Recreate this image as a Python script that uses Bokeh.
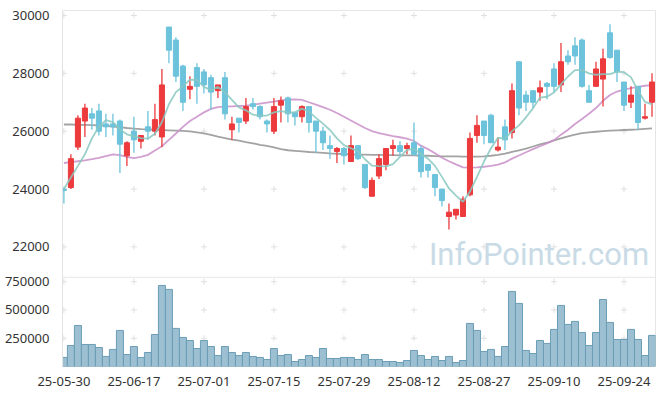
from bokeh.plotting import figure
from bokeh.models import Range1d, FixedTicker, Label, NumeralTickFormatter, Span
from bokeh.embed import file_html
from bokeh.resources import INLINE

# ---- data ----
opens = [24000, 24050, 25450, 26350, 26600, 26700, 26250, 26250, 26350, 25150,
         26000, 25650, 26150, 26000, 25800, 29600, 29150, 28250, 27450, 28200,
         28050, 27850, 27400, 27850, 26050, 26450, 26350, 26950, 26850, 26350,
         26000, 26900, 27150, 26650, 26500, 26850, 26350, 26000, 25500, 25300,
         25400, 24950, 25500, 24850, 23750, 24450, 24850, 25400, 25500, 25400,
         25600, 25400, 24850, 24500, 24000, 23050, 23100, 23050, 23800, 25850,
         26350, 26550, 25350, 26150, 25950, 28400, 27250, 27400, 27350, 27650,
         28150, 27600, 28600, 28950, 29150, 27400, 27550, 27800, 29400, 28800,
         27700, 27000, 27550, 26450, 27000]
highs = [24050, 25200, 26550, 26950, 26800, 26950, 26600, 26600, 26400, 25650,
         26500, 25850, 26700, 26950, 28150, 29600, 29250, 28300, 27900, 28350,
         28150, 27950, 27600, 28050, 26500, 26450, 27150, 27150, 26900, 26400,
         27150, 27200, 27200, 26650, 26900, 26850, 26350, 26150, 25850, 25450,
         25450, 25850, 25500, 24850, 24400, 25200, 25400, 25700, 25650, 25600,
         26300, 25500, 24850, 24500, 24000, 23500, 23300, 23750, 25950, 26550,
         26350, 26600, 25800, 26400, 27650, 28400, 27400, 27400, 27750, 27700,
         28350, 29050, 28800, 29250, 29200, 27600, 28400, 28850, 29700, 28800,
         27700, 27550, 27550, 26950, 28000]
lows = [23500, 24000, 25350, 25800, 26050, 25850, 25800, 25850, 24550, 24800,
        25250, 25400, 25700, 25850, 25450, 28350, 27700, 26700, 27100, 26950,
        27300, 26750, 27150, 26400, 25700, 25950, 26250, 26750, 26400, 25950,
        25900, 26300, 26300, 26200, 26300, 25950, 25250, 25350, 25050, 24900,
        24850, 24950, 25000, 24000, 23750, 24350, 24650, 25150, 25150, 25200,
        25150, 24400, 24400, 23750, 23400, 22600, 22950, 23050, 23750, 25600,
        25550, 25600, 25300, 25350, 25750, 26550, 26700, 26800, 27050, 27100,
        27350, 27350, 28300, 28300, 27500, 27000, 27550, 26850, 28500, 27700,
        26700, 26800, 26050, 26400, 26500]
closes = [23950, 25050, 26450, 26800, 26450, 26000, 26150, 26150, 25550, 25600,
          25700, 25850, 26000, 26400, 27600, 28800, 27900, 27000, 27550, 27550,
          27600, 27350, 27600, 26600, 26250, 26300, 26850, 26850, 26500, 26250,
          26850, 27050, 26600, 26500, 26850, 26300, 26000, 25600, 25400, 25400,
          25150, 25500, 25050, 24050, 24300, 25050, 25400, 25500, 25300, 25500,
          25200, 24600, 24650, 24050, 23600, 23200, 23300, 23650, 25750, 26200,
          25850, 25600, 25450, 25700, 27400, 26800, 27000, 27000, 27500, 27550,
          27550, 28400, 28400, 28600, 27550, 27000, 28150, 28500, 28550, 28050,
          26900, 27250, 26300, 26500, 27700]
volumes = [80000, 186000, 363000, 195000, 195000, 168000, 89000, 151000, 319000, 106000,
           177000, 80000, 124000, 283000, 717000, 682000, 337000, 257000, 230000, 159000,
           230000, 177000, 97000, 177000, 124000, 97000, 124000, 89000, 80000, 62000,
           159000, 97000, 106000, 44000, 62000, 97000, 80000, 159000, 71000, 71000,
           80000, 80000, 62000, 106000, 62000, 62000, 44000, 44000, 35000, 53000,
           142000, 97000, 62000, 89000, 53000, 89000, 35000, 53000, 381000, 319000,
           133000, 151000, 89000, 177000, 664000, 558000, 142000, 115000, 230000, 204000,
           328000, 540000, 372000, 399000, 301000, 186000, 301000, 593000, 390000, 239000,
           239000, 328000, 239000, 97000, 275000]
ma5 = [24000, 24400, 24800, 25200, 25750, 26150, 26380, 26310, 26060, 25890,
       25820, 25760, 25740, 25910, 26310, 26930, 27350, 27550, 27780, 27770,
       27530, 27420, 27530, 27340, 27080, 26820, 26720, 26570, 26540, 26540,
       26650, 26690, 26650, 26650, 26780, 26670, 26460, 26260, 26040, 25750,
       25520, 25410, 25300, 25030, 24810, 24790, 24780, 24860, 25110, 25350,
       25380, 25220, 25050, 24800, 24420, 24020, 23770, 23560, 23910, 24420,
       24950, 25410, 25770, 25750, 26000, 26200, 26480, 26790, 27160, 27190,
       27340, 27620, 27890, 28110, 28110, 28000, 27950, 27970, 27970, 28060,
       28040, 27860, 27410, 27010, 26930]
ma20 = [24900, 24930, 24960, 24990, 25030, 25080, 25140, 25200, 25170, 25110,
        25070, 25110, 25180, 25330, 25480, 25700, 25920, 26150, 26350, 26500,
        26650, 26770, 26830, 26850, 26860, 26870, 26880, 26910, 26950, 26990,
        27020, 27060, 27090, 27100, 27080, 27000, 26920, 26830, 26740, 26630,
        26500, 26370, 26240, 26110, 26000, 25930, 25880, 25830, 25790, 25740,
        25660, 25500, 25380, 25240, 25080, 24960, 24850, 24750, 24740, 24750,
        24770, 24800, 24840, 24920, 25050, 25160, 25270, 25380, 25480, 25580,
        25690, 25880, 26050, 26250, 26420, 26600, 26800, 27050, 27250, 27370,
        27440, 27490, 27530, 27570, 27590]
ma60 = [26230, 26230, 26220, 26220, 26210, 26200, 26180, 26160, 26140, 26110,
        26090, 26070, 26060, 26050, 26040, 26030, 26020, 26010, 25990, 25960,
        25920, 25870, 25810, 25760, 25710, 25670, 25620, 25580, 25530, 25490,
        25440, 25380, 25340, 25320, 25300, 25280, 25270, 25250, 25230, 25220,
        25210, 25200, 25190, 25190, 25180, 25180, 25170, 25170, 25160, 25160,
        25160, 25150, 25150, 25140, 25130, 25130, 25130, 25120, 25120, 25120,
        25130, 25150, 25180, 25220, 25280, 25340, 25400, 25470, 25540, 25600,
        25680, 25750, 25820, 25880, 25930, 25960, 25980, 26000, 26020, 26030,
        26040, 26050, 26060, 26080, 26100]
tick_index = [0, 10, 20, 30, 40, 50, 60, 70, 80]
tick_labels = ["25-05-30", "25-06-17", "25-07-01", "25-07-15", "25-07-29",
               "25-08-12", "25-08-27", "25-09-10", "25-09-24"]
price_ticks = [22000, 24000, 26000, 28000, 30000]
volume_ticks = [250000, 500000, 750000]

UP = "#ec3a3d"
DOWN = "#6cc3db"
FONT = "Noto Sans"

n = len(closes)
idx = list(range(n))
colors = [UP if c >= o else DOWN for o, c in zip(opens, closes)]
body_top = [max(o, c) for o, c in zip(opens, closes)]
body_bot = [min(o, c) for o, c in zip(opens, closes)]

# price panel occupies the upper part of the frame, volume panel the lower part
P_LO, P_HI = 17864, 30172      # price scale over the whole frame
PANEL_SPLIT = 20948            # price value at the panel divider
V_HI = 3149000                 # volume scale over the whole frame

p = figure(width=657, height=388, x_range=Range1d(-0.2, 84.5),
           y_range=Range1d(P_LO, P_HI), output_backend="svg",
           toolbar_location=None, title=None,
           min_border_left=62, min_border_right=2, min_border_top=10,
           min_border_bottom=20)
p.extra_y_ranges = {"vol": Range1d(0, V_HI)}
p.grid.visible = False
p.outline_line_color = "#e6e6e6"

# y axis: price ticks plus volume ticks (positioned on the shared scale)
vol_pos = [P_LO + v / V_HI * (P_HI - P_LO) for v in volume_ticks]
ya = p.yaxis[0]
ya.ticker = FixedTicker(ticks=price_ticks + vol_pos)
ya.formatter = NumeralTickFormatter(format="0")
ya.major_label_overrides = {pos: str(v) for pos, v in zip(vol_pos, volume_ticks)}
ya.major_tick_line_color = None
ya.minor_tick_line_color = None
ya.axis_line_color = "#e3e3e3"
ya.major_label_text_font = FONT
ya.major_label_text_font_size = "13px"
ya.major_label_text_color = "#333333"
ya.major_label_standoff = 7

xa = p.xaxis[0]
xa.ticker = FixedTicker(ticks=tick_index)
xa.major_label_overrides = {t: l for t, l in zip(tick_index, tick_labels)}
xa.major_tick_line_color = None
xa.minor_tick_line_color = None
xa.axis_line_color = None
xa.major_label_text_font = FONT
xa.major_label_text_font_size = "13px"
xa.major_label_text_color = "#333333"
xa.major_label_standoff = 4

# panel divider
p.add_layout(Span(location=PANEL_SPLIT, dimension="width",
                  line_color="#e6e6e6", line_width=1))

# grid crosses
gx = [t for t in tick_index for _ in price_ticks]
gy = [v for _ in tick_index for v in price_ticks]
p.scatter(gx, gy, marker="cross", size=6, line_color="#e0e0e0", line_width=1)
vx = [t for t in tick_index for _ in volume_ticks]
vy = [v for _ in tick_index for v in volume_ticks]
p.scatter(vx, vy, marker="cross", size=6, line_color="#e0e0e0", line_width=1,
          y_range_name="vol")

# watermark
p.add_layout(Label(x=67.86, y=21720, text="InfoPointer.com", text_font="Roboto",
                   text_font_size="31px", text_color="#c9dbe6",
                   text_align="center", text_baseline="middle"))

# moving averages + candles
p.line(idx, ma60, line_color="#999999", line_width=1.8, line_alpha=0.9)
p.line(idx, ma20, line_color="#c98fc9", line_width=1.8, line_alpha=0.85)
p.segment(idx, highs, idx, lows, line_color=colors, line_width=1.3)
p.vbar(x=idx, top=body_top, bottom=body_bot, width=0.72,
       fill_color=colors, line_color=colors, line_width=1)
p.line(idx, ma5, line_color="#88c8bf", line_width=1.8, line_alpha=0.85)

# volume bars
p.vbar(x=idx, top=volumes, bottom=0, width=1.0, fill_color="#97bdd0",
       fill_alpha=0.95, line_color="#6b9db6", line_width=1, y_range_name="vol")

open("out.html", "w").write(file_html(p, INLINE))
